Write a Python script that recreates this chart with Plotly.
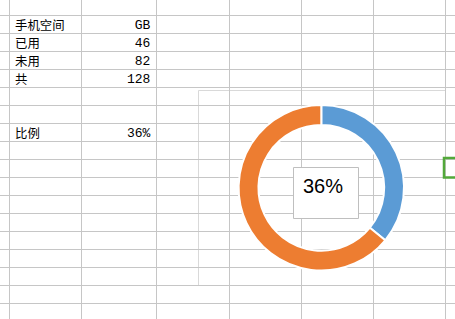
import plotly.graph_objects as go

# ---- data ----
labels = ["手机空间", "已用", "未用", "共", "", "", "比例"]
values = ["GB", "46", "82", "128", "", "", "36%"]
slice_names = ["已用", "未用"]
slice_values = [46, 82]
slice_colors = ["#5B9BD5", "#ED7D31"]

# ---- layout constants (pixels) ----
W, H = 455, 319
col_lines = [9, 81, 156, 229, 301, 373, 445]
row_top, row_h = 15, 18
row_lines = [row_top + row_h * k for k in range(17)]
grid_color = "#C6C6C6"

pie_cx, pie_cy, pie_r = 321.3, 187.8, 82.7
hole = 0.76

fig = go.Figure()

# cell texts as one column block each (line spacing = row height)
line_font = row_h / 1.3
n = len(labels)
block_mid = row_top + row_h * (n / 2) + 1
lab_text = "<br>".join(f'<span style="font-size:12.4px">{t}</span>' if t else " " for t in labels)
val_text = "<br>".join(f'<span style="font-size:13px">{t}</span>' if t else " " for t in values)
fig.add_annotation(x=col_lines[0] + 4, y=block_mid, xref="x", yref="y", text=lab_text,
                   showarrow=False, xanchor="left", yanchor="middle", align="left",
                   font=dict(family="Noto Sans CJK SC", size=line_font, color="black"))
fig.add_annotation(x=col_lines[2] - 3, y=block_mid, xref="x", yref="y", text=val_text,
                   showarrow=False, xanchor="right", yanchor="middle", align="right",
                   font=dict(family="Liberation Mono, Noto Sans CJK SC", size=line_font, color="black"))

# invisible cartesian trace so the sheet grid (axes) is drawn
fig.add_trace(go.Scatter(x=[None], y=[None], mode="markers", showlegend=False, hoverinfo="skip"))

# donut
fig.add_trace(go.Pie(
    labels=slice_names, values=slice_values, hole=hole, sort=False, direction="clockwise",
    rotation=0, textinfo="none", showlegend=False,
    marker=dict(colors=slice_colors, line=dict(color="white", width=2)),
    domain=dict(x=[(pie_cx - pie_r) / W, (pie_cx + pie_r) / W],
                y=[1 - (pie_cy + pie_r) / H, 1 - (pie_cy - pie_r) / H]),
))

# chart frame
fig.add_shape(type="rect", xref="x", yref="y", x0=198.5, x1=445.5, y0=90.5, y1=285.5,
              line=dict(color="#D9D9D9", width=1), fillcolor="rgba(0,0,0,0)", layer="below")

# centre label box
pct = round(100 * slice_values[0] / sum(slice_values))
fig.add_shape(type="rect", xref="x", yref="y", x0=293.5, x1=358.5, y0=167.5, y1=218.5,
              line=dict(color="#BFBFBF", width=1), fillcolor="white", layer="above")
fig.add_annotation(x=323, y=186, xref="x", yref="y", text=f"{pct}%", showarrow=False,
                   xanchor="center", yanchor="middle",
                   font=dict(family="Liberation Sans", size=20, color="black"))

# selected-cell marker (green)
fig.add_shape(type="rect", xref="x", yref="y", x0=444, x1=470, y0=158, y1=177.5,
              line=dict(color="#52A83A", width=2.5), fillcolor="rgba(0,0,0,0)", layer="above")

fig.update_xaxes(range=[0, W], tickvals=col_lines, showgrid=True, gridcolor=grid_color, gridwidth=1,
                 showticklabels=False, ticks="", zeroline=False, showline=False, fixedrange=True)
fig.update_yaxes(range=[H, 0], tickvals=row_lines, showgrid=True, gridcolor=grid_color, gridwidth=1,
                 showticklabels=False, ticks="", zeroline=False, showline=False, fixedrange=True)

fig.update_layout(width=W, height=H, margin=dict(l=0, r=0, t=0, b=0),
                  paper_bgcolor="white", plot_bgcolor="white", showlegend=False)

fig.write_html("out.html")
